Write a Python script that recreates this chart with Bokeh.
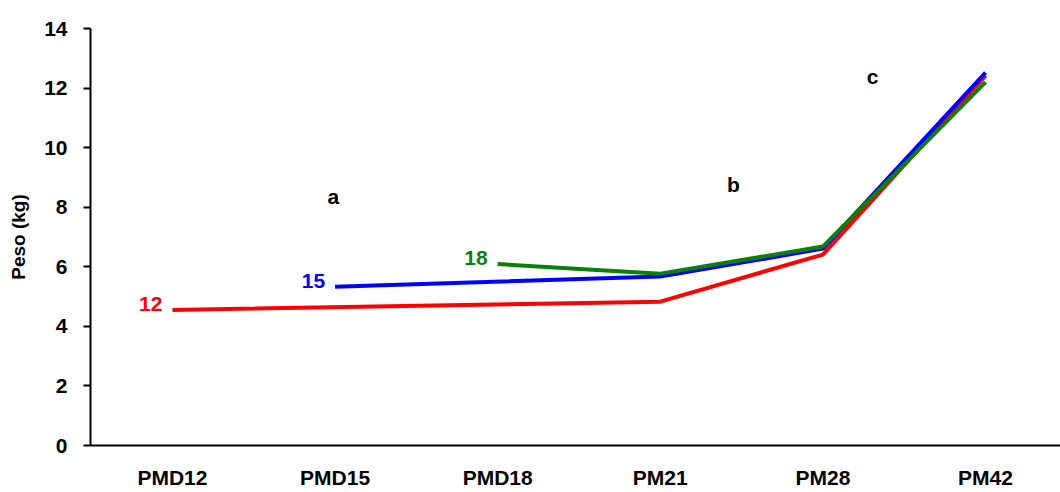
from bokeh.plotting import figure
from bokeh.models import FixedTicker, Range1d
from bokeh.core.properties import value
from bokeh.embed import file_html
from bokeh.resources import INLINE

categories = ["PMD12", "PMD15", "PMD18", "PM21", "PM28", "PM42"]

red_cats = ["PMD12", "PM21", "PM28", "PM42"]
red_vals = [4.55, 4.83, 6.41, 12.42]
blue_cats = ["PMD15", "PM21", "PM28", "PM42"]
blue_vals = [5.33, 5.67, 6.61, 12.52]
green_cats = ["PMD18", "PM21", "PM28", "PM42"]
green_vals = [6.09, 5.77, 6.68, 12.2]

series_labels = ["12", "15", "18"]
letters = ["a", "b", "c"]
letter_x = [0.99, 3.45, 4.305]
letter_y = [8.35, 8.75, 12.38]

yticks = [0, 2, 4, 6, 8, 10, 12, 14]

FONT = "Liberation Sans"
FS = "21px"

idx = {c: i for i, c in enumerate(categories)}

p = figure(width=1060, height=492, output_backend="svg", toolbar_location=None,
           x_range=Range1d(-0.504, 5.461), y_range=Range1d(0, 14),
           min_border_left=90, min_border_right=0, min_border_top=28, min_border_bottom=47)
p.outline_line_color = None
p.grid.visible = False
p.background_fill_color = "white"

series = [(red_cats, red_vals, "#FF0000"), (blue_cats, blue_vals, "#0000FF"), (green_cats, green_vals, "#0A800A")]
for (cats, vals, col), lab in zip(series, series_labels):
    xs = [idx[c] for c in cats]
    p.line(xs, vals, line_color=col, line_width=4, line_join="round")
    p.text(x=[xs[0]], y=[vals[0]], text=[lab], text_color=col, text_align="right",
           text_baseline="middle", x_offset=-10, y_offset=-6,
           text_font=value(FONT), text_font_style="bold", text_font_size=FS)

p.text(x=letter_x, y=letter_y, text=letters, text_color="black", text_align="center",
       text_baseline="middle", text_font=value(FONT), text_font_style="bold", text_font_size=FS)

p.xaxis.ticker = FixedTicker(ticks=list(range(len(categories))))
p.xaxis.major_label_overrides = {i: c for i, c in enumerate(categories)}
p.xaxis.major_tick_line_color = None
p.xaxis.minor_tick_line_color = None
p.xaxis.axis_line_width = 2
p.xaxis.axis_line_color = "black"
p.xaxis.major_label_standoff = 14
p.xaxis.major_label_text_font = FONT
p.xaxis.major_label_text_font_style = "bold"
p.xaxis.major_label_text_font_size = FS
p.xaxis.major_label_text_color = "black"

p.yaxis.ticker = FixedTicker(ticks=yticks)
p.yaxis.minor_tick_line_color = None
p.yaxis.major_tick_in = 0
p.yaxis.major_tick_out = 7
p.yaxis.major_tick_line_width = 2
p.yaxis.axis_line_width = 2
p.yaxis.axis_line_color = "black"
p.yaxis.major_label_standoff = 16
p.yaxis.major_label_text_font = FONT
p.yaxis.major_label_text_font_style = "bold"
p.yaxis.major_label_text_font_size = FS
p.yaxis.major_label_text_color = "black"
p.yaxis.axis_label = "Peso (kg)"
p.yaxis.axis_label_text_font = FONT
p.yaxis.axis_label_text_font_style = "bold"
p.yaxis.axis_label_text_font_size = "19px"
p.yaxis.axis_label_text_color = "black"
p.yaxis.axis_label_standoff = 12

open("out.html", "w").write(file_html(p, INLINE))
